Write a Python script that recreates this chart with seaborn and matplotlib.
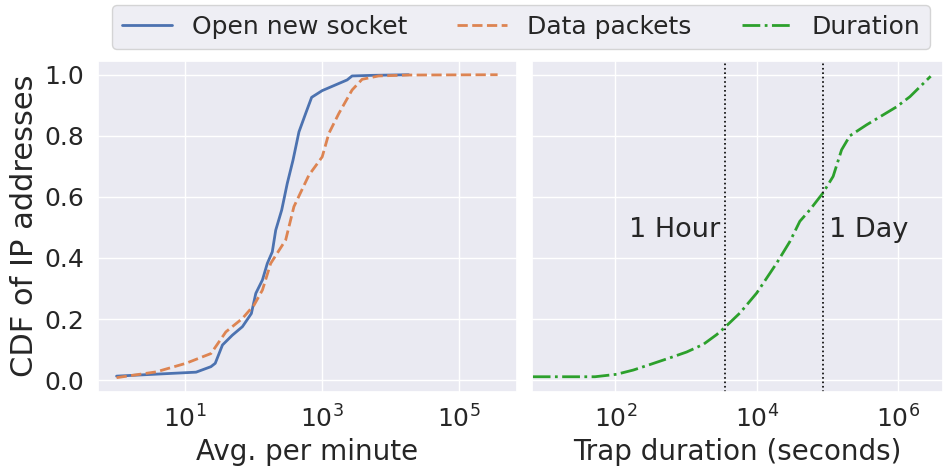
import numpy as np
import pandas as pd
import seaborn as sns
import matplotlib.pyplot as plt
from matplotlib.ticker import NullLocator, FormatStrFormatter

sns.set_theme(style="darkgrid")
plt.rcParams['font.family'] = ['DejaVu Sans']

# left panel: avg. events per minute (CDF)
socket_x = [1.0, 14.5, 23.9, 27.6, 35.2, 49, 68.9, 93, 108, 135, 159, 188, 211, 258,
            311, 377, 461, 577, 706, 1007, 2330, 2750, 5370, 18400]
socket_y = [0.013, 0.026, 0.044, 0.055, 0.115, 0.147, 0.175, 0.218, 0.284, 0.328, 0.382,
            0.42, 0.491, 0.557, 0.644, 0.72, 0.813, 0.873, 0.926, 0.948, 0.983, 0.996,
            0.998, 1.0]
packets_x = [1.0, 3.8, 10.3, 23.9, 39.5, 68.9, 102, 135, 178, 295, 389, 643, 1007, 1260,
             1760, 2750, 3850, 6700, 18400, 367000]
packets_y = [0.008, 0.027, 0.055, 0.087, 0.158, 0.202, 0.246, 0.295, 0.382, 0.459, 0.568,
             0.671, 0.731, 0.808, 0.873, 0.95, 0.985, 0.996, 0.999, 1.0]

# right panel: trap duration (CDF)
duration_x = [6.8, 51.6, 104, 180, 309, 593, 1020, 1755, 2710, 3550, 5790, 9960, 19100,
              29400, 40600, 56500, 85700, 120000, 158000, 207000, 357000, 948000,
              1460000, 2870000]
duration_y = [0.011, 0.011, 0.019, 0.033, 0.051, 0.073, 0.092, 0.117, 0.149, 0.173, 0.22,
              0.285, 0.383, 0.454, 0.52, 0.558, 0.612, 0.667, 0.754, 0.80, 0.836, 0.895,
              0.928, 0.995]

markers_x = [3600, 86400]
markers_text = ["1 Hour", "1 Day"]

blue, orange, green = "#4C72B0", "#DD8452", "#2ca02c"

fig = plt.figure(figsize=(9.43, 4.69), dpi=100)
ax1 = fig.add_axes([0.1034, 0.1648, 0.4445, 0.7058])
ax2 = fig.add_axes([0.5642, 0.1648, 0.4358, 0.7058], sharey=ax1)

sns.lineplot(x=socket_x, y=socket_y, ax=ax1, estimator=None, sort=False,
             color=blue, linewidth=2, linestyle='-', label="Open new socket")
sns.lineplot(x=packets_x, y=packets_y, ax=ax1, estimator=None, sort=False,
             color=orange, linewidth=2, linestyle='--', label="Data packets")
sns.lineplot(x=duration_x, y=duration_y, ax=ax2, estimator=None, sort=False,
             color=green, linewidth=2, linestyle='-.', label="Duration")

for ax in (ax1, ax2):
    ax.set_xscale('log')
    ax.xaxis.set_minor_locator(NullLocator())
    ax.tick_params(labelsize=18)
    ax.get_legend().remove()

ax1.set_xticks([1e1, 1e3, 1e5])
ax2.set_xticks([1e2, 1e4, 1e6])
ax2.set_xlim(6.65, 4.29e6)
ax1.set_ylim(-0.038, 1.046)
ax1.set_yticks([0.0, 0.2, 0.4, 0.6, 0.8, 1.0])
ax1.yaxis.set_major_formatter(FormatStrFormatter('%.1f'))
ax2.tick_params(labelleft=False)

ax1.set_xlabel("Avg. per minute", fontsize=20)
ax1.set_ylabel("CDF of IP addresses", fontsize=22)
ax2.set_xlabel("Trap duration (seconds)", fontsize=20)

for xv in markers_x:
    ax2.axvline(xv, color='black', linestyle=':', linewidth=1.2)
ax2.annotate(markers_text[0], (markers_x[0], 0.47), xytext=(-4, 0),
             textcoords='offset points', ha='right', va='baseline', fontsize=19.5)
ax2.annotate(markers_text[1], (markers_x[1], 0.47), xytext=(4, 0),
             textcoords='offset points', ha='left', va='baseline', fontsize=19.5)

handles = ax1.get_lines()[:2] + ax2.get_lines()[:1]
fig.legend(handles, ["Open new socket", "Data packets", "Duration"],
           loc='upper center', bbox_to_anchor=(0.5525, 0.989), ncol=3, fontsize=18,
           frameon=True, borderaxespad=0.0)

fig.savefig("out.png", dpi=100)
